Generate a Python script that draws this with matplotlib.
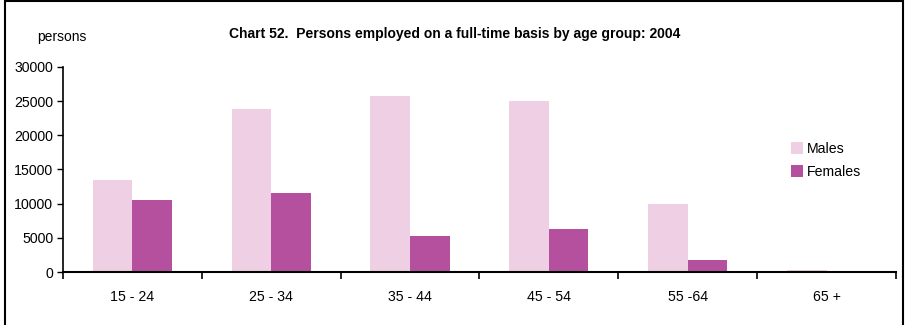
import matplotlib
matplotlib.use('Agg')
import matplotlib.pyplot as plt
import numpy as np
from matplotlib.patches import Rectangle

plt.rcParams['font.family'] = ['Liberation Sans', 'DejaVu Sans']

age_groups = ['15 - 24', '25 - 34', '35 - 44', '45 - 54', '55 -64', '65 +']
males = [13400, 23800, 25800, 25000, 10000, 300]
females = [10600, 11500, 5300, 6300, 1800, 50]

MALE_COLOR = '#EFCFE3'
FEMALE_COLOR = '#B5509E'

fig = plt.figure(figsize=(9.05, 3.25), dpi=100)
ax = fig.add_axes([0.0696, 0.163, 0.9204, 0.631])

x = np.arange(len(age_groups)) + 0.5
w = 0.285
ax.bar(x - w / 2, males, width=w, color=MALE_COLOR, label='Males')
ax.bar(x + w / 2, females, width=w, color=FEMALE_COLOR, label='Females')

ax.set_xlim(0, len(age_groups))
ax.set_ylim(0, 30000)
ax.set_yticks(range(0, 30001, 5000))
ax.tick_params(axis='y', labelsize=10.2, length=4, width=1, direction='out', pad=3)

# boundary ticks as major, labels on minor ticks
ax.set_xticks(range(len(age_groups) + 1))
ax.set_xticklabels([])
ax.set_xticks(x, minor=True)
ax.set_xticklabels(age_groups, minor=True)
ax.tick_params(axis='x', which='major', length=5, width=1.2, direction='out')
ax.tick_params(axis='x', which='minor', length=0, labelsize=10.2, pad=13)

for s in ['top', 'right']:
    ax.spines[s].set_visible(False)
ax.spines['left'].set_linewidth(1.2)
ax.spines['bottom'].set_linewidth(1.5)

fig.text(0.502, 0.896, 'Chart 52.  Persons employed on a full-time basis by age group: 2004',
         ha='center', va='center', fontsize=10, fontweight='bold')
fig.text(0.041, 0.886, 'persons', ha='left', va='center', fontsize=10)

ax.legend(loc='upper left', bbox_to_anchor=(0.874, 0.635), frameon=False, fontsize=10.2,
          handlelength=0.85, handleheight=0.85, handletextpad=0.25, labelspacing=0.65,
          borderaxespad=0, borderpad=0)

# outer frame
fig.patches.append(Rectangle((5 / 905, -0.1), 898 / 905, 1.097, transform=fig.transFigure,
                             fill=False, edgecolor='black', linewidth=1.5))

fig.savefig('out.png', dpi=100)
